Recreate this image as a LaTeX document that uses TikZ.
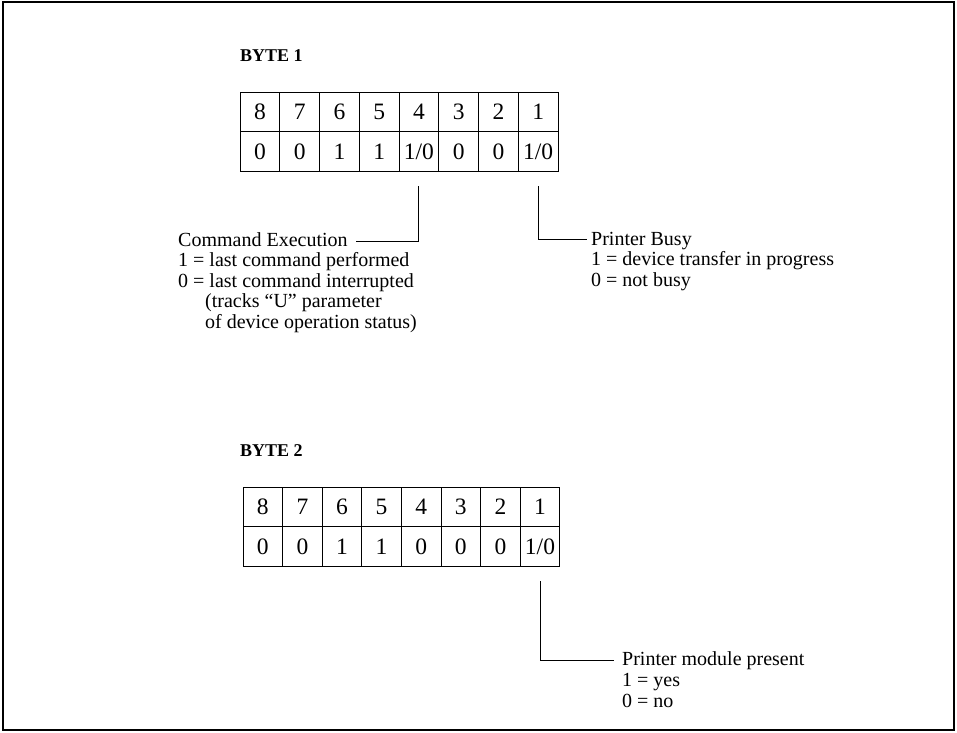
\documentclass[tikz,border=0pt]{standalone}
\usepackage{fontspec}
\setmainfont{Liberation Serif}
\usetikzlibrary{positioning,calc}
\tikzset{
  cell/.style={draw, line width=0.8pt, minimum width=39.7pt, minimum height=39.5pt, inner sep=0pt, outer sep=0pt, font=\fontsize{23.5}{25}\selectfont},
  title/.style={anchor=base west, inner sep=0pt, font=\fontsize{18}{20}\selectfont\bfseries},
  note/.style={anchor=base west, align=left, inner sep=0pt, font=\fontsize{20}{20.6}\selectfont},
  leader/.style={line width=0.8pt},
  frame/.style={line width=1.8pt}
}
\begin{document}
\begin{tikzpicture}[x=1pt,y=-1pt]
  \useasboundingbox (0,0) rectangle (957,732);
  \draw[frame] (3,2) rectangle (954,730);

  % byte 1
  \node[title] (titleA) at (240,61.5) {BYTE 1};
  \foreach \bit/\val [count=\i] in {8/0,7/0,6/1,5/1,4/{1/0},3/0,2/0,1/{1/0}} {
    \node[cell] (hdA\i) at ({240+(\i-0.5)*39.75},112) {\bit};
    \node[cell, below=0pt of hdA\i] (valA\i) {\val};
  }

  % byte 2
  \node[title] (titleB) at (240,456) {BYTE 2};
  \foreach \bit/\val [count=\i] in {8/0,7/0,6/1,5/1,4/0,3/0,2/0,1/{1/0}} {
    \node[cell] (hdB\i) at ({243+(\i-0.5)*39.6},507) {\bit};
    \node[cell, below=0pt of hdB\i] (valB\i) {\val};
  }

  \coordinate (cmdtip) at (356,241);
  \coordinate (busytip) at (587,239);
  \coordinate (modtip) at (614,660);

  % notes are anchored on the baseline of their last line
  \node[note] (cmdnote) at (178,328.5) {Command Execution\\1 = last command performed\\0 = last command interrupted\\\hspace*{27pt}(tracks “U” parameter\\\hspace*{27pt}of device operation status)};
  \node[note] (busynote) at (591,286.5) {Printer Busy\\1 = device transfer in progress\\0 = not busy};
  \node[note] (modnote) at (622,707) {Printer module present\\1 = yes\\0 = no};

  \draw[leader] ($(valA5.south)+(0,15)$) |- (cmdtip);
  \draw[leader] ($(valA8.south)+(0,15)$) |- (busytip);
  \draw[leader] ($(valB8.south)+(0,15)$) |- (modtip);
\end{tikzpicture}
\end{document}
